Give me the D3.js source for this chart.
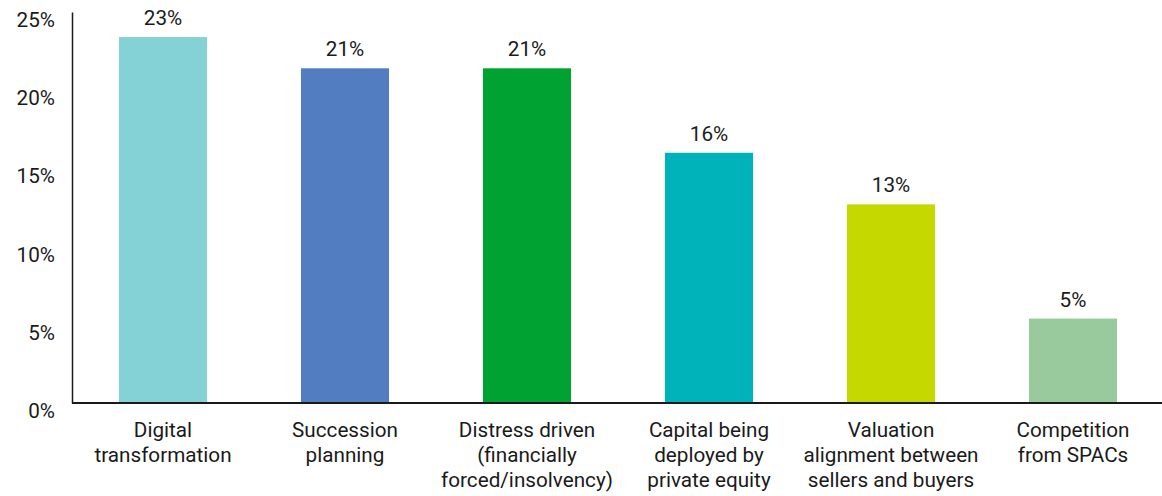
<!DOCTYPE html>
<html>
<head>
<meta charset="utf-8">
<script src="https://cdn.jsdelivr.net/npm/d3@7/dist/d3.min.js"></script>
<style>
  html, body { margin: 0; padding: 0; background: #ffffff; }
  svg { display: block; font-family: Roboto, "Noto Sans", sans-serif; }
</style>
</head>
<body>
<svg id="chart" width="1162" height="496"></svg>
<script>
// Category labels, one array entry per line of wrapped text
const categories = [
  ["Digital", "transformation"],
  ["Succession", "planning"],
  ["Distress driven", "(financially", "forced/insolvency)"],
  ["Capital being", "deployed by", "private equity"],
  ["Valuation", "alignment between", "sellers and buyers"],
  ["Competition", "from SPACs"]
];
// Share of respondents (%)
const values = [23.4, 21.4, 21.4, 16.0, 12.7, 5.4];
const barColors = ["#84d2d6", "#527ec1", "#00a232", "#00b2b9", "#c5d800", "#98ca9e"];
const yTicks = [0, 5, 10, 15, 20, 25];

const svg = d3.select("#chart");
const margin = { left: 72, right: -2, top: 12, bottom: 93 };
const width = 1162, height = 496;
const fontSize = 20.7;

const x = d3.scaleBand()
  .domain(d3.range(categories.length))
  .range([margin.left, width - margin.right])
  .paddingInner(0.516)
  .paddingOuter(0.258);

const y = d3.scaleLinear()
  .domain([0, 25])
  .range([height - margin.bottom, margin.top]);

// Bars
svg.append("g")
  .selectAll("rect")
  .data(values)
  .join("rect")
  .attr("x", (d, i) => x(i))
  .attr("width", x.bandwidth())
  .attr("y", d => y(d))
  .attr("height", d => y(0) - y(d))
  .attr("fill", (d, i) => barColors[i]);

// Value labels above bars
svg.append("g")
  .selectAll("text")
  .data(values)
  .join("text")
  .attr("x", (d, i) => x(i) + x.bandwidth() / 2)
  .attr("y", d => y(d) - 12)
  .attr("text-anchor", "middle")
  .attr("font-size", fontSize)
  .attr("fill", "#1a1a1a")
  .text(d => d3.format(".0f")(d) + "%");

// Y axis: labels only, with a plain vertical line
const yAxis = svg.append("g")
  .attr("transform", `translate(${margin.left},0)`)
  .call(d3.axisLeft(y).tickValues(yTicks).tickSize(0).tickPadding(17).tickFormat(d => d + "%"));
yAxis.select(".domain").attr("stroke", "#1a1a1a").attr("stroke-width", 1.5);
yAxis.selectAll("text")
  .attr("font-size", fontSize)
  .attr("font-family", "Roboto, sans-serif")
  .attr("fill", "#1a1a1a")
  .attr("dy", "0.7em");

// X axis baseline
svg.append("line")
  .attr("x1", margin.left)
  .attr("x2", width)
  .attr("y1", y(0))
  .attr("y2", y(0))
  .attr("stroke", "#1a1a1a")
  .attr("stroke-width", 2);

// Category labels
const catG = svg.append("g")
  .selectAll("text")
  .data(categories)
  .join("text")
  .attr("text-anchor", "middle")
  .attr("font-size", fontSize)
  .attr("fill", "#1a1a1a")
  .attr("transform", (d, i) => `translate(${x(i) + x.bandwidth() / 2},${y(0) + 34})`);
catG.selectAll("tspan")
  .data(d => d)
  .join("tspan")
  .attr("x", 0)
  .attr("dy", (d, j) => j === 0 ? 0 : 25)
  .text(d => d);
</script>
</body>
</html>
